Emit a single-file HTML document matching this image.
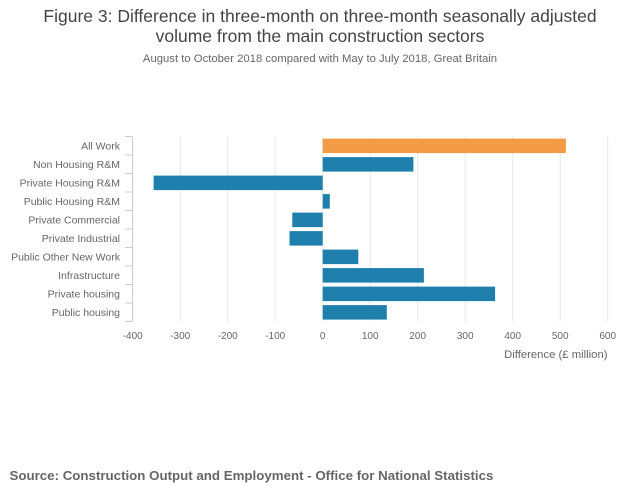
<!DOCTYPE html>
<html>
<head>
<meta charset="utf-8">
<style>
  html, body { margin: 0; padding: 0; background: #ffffff; }
  svg { display: block; font-family: "Liberation Sans", "DejaVu Sans", sans-serif; }
</style>
</head>
<body>
<svg width="640" height="501" viewBox="0 0 640 501" xmlns="http://www.w3.org/2000/svg">
  <rect x="0" y="0" width="640" height="501" fill="#ffffff"/>

  <!-- Title -->
  <text x="320" y="22" text-anchor="middle" font-size="17.5" fill="#444444">Figure 3: Difference in three-month on three-month seasonally adjusted</text>
  <text x="320" y="42" text-anchor="middle" font-size="17.5" fill="#444444">volume from the main construction sectors</text>
  <text x="320" y="62" text-anchor="middle" font-size="11.3" fill="#666666">August to October 2018 compared with May to July 2018, Great Britain</text>

  <!-- Gridlines -->
  <g stroke="#e6e6e6" stroke-width="1">
    <line x1="132.7" y1="136.5" x2="132.7" y2="321.5"/>
    <line x1="180.2" y1="136.5" x2="180.2" y2="321.5"/>
    <line x1="227.7" y1="136.5" x2="227.7" y2="321.5"/>
    <line x1="275.2" y1="136.5" x2="275.2" y2="321.5"/>
    <line x1="322.7" y1="136.5" x2="322.7" y2="321.5"/>
    <line x1="370.2" y1="136.5" x2="370.2" y2="321.5"/>
    <line x1="417.7" y1="136.5" x2="417.7" y2="321.5"/>
    <line x1="465.2" y1="136.5" x2="465.2" y2="321.5"/>
    <line x1="512.7" y1="136.5" x2="512.7" y2="321.5"/>
    <line x1="560.2" y1="136.5" x2="560.2" y2="321.5"/>
    <line x1="607.7" y1="136.5" x2="607.7" y2="321.5"/>
  </g>

  <!-- Left axis line and ticks -->
  <g stroke="#cccccc" stroke-width="1">
    <line x1="132.5" y1="136.5" x2="132.5" y2="321.5"/>
    <line x1="125" y1="136.5" x2="132.5" y2="136.5"/>
    <line x1="125" y1="155" x2="132.5" y2="155"/>
    <line x1="125" y1="173.5" x2="132.5" y2="173.5"/>
    <line x1="125" y1="192" x2="132.5" y2="192"/>
    <line x1="125" y1="210.5" x2="132.5" y2="210.5"/>
    <line x1="125" y1="229" x2="132.5" y2="229"/>
    <line x1="125" y1="247.5" x2="132.5" y2="247.5"/>
    <line x1="125" y1="266" x2="132.5" y2="266"/>
    <line x1="125" y1="284.5" x2="132.5" y2="284.5"/>
    <line x1="125" y1="303" x2="132.5" y2="303"/>
    <line x1="125" y1="321.5" x2="132.5" y2="321.5"/>
  </g>

  <!-- Bars -->
  <rect x="322.7" y="138.6" width="243.2" height="14.5" fill="#f39c45"/>
  <rect x="322.7" y="157.1" width="90.7" height="14.5" fill="#1e7fac"/>
  <rect x="153.6" y="175.6" width="169.1" height="14.5" fill="#1e7fac"/>
  <rect x="322.7" y="194.1" width="7.1" height="14.5" fill="#1e7fac"/>
  <rect x="292.3" y="212.6" width="30.4" height="14.5" fill="#1e7fac"/>
  <rect x="289.5" y="231.1" width="33.2" height="14.5" fill="#1e7fac"/>
  <rect x="322.7" y="249.6" width="35.6" height="14.5" fill="#1e7fac"/>
  <rect x="322.7" y="268.1" width="101.2" height="14.5" fill="#1e7fac"/>
  <rect x="322.7" y="286.6" width="172.4" height="14.5" fill="#1e7fac"/>
  <rect x="322.7" y="305.1" width="64.1" height="14.5" fill="#1e7fac"/>

  <!-- Category labels -->
  <g font-size="10.5" fill="#666666" text-anchor="end">
    <text x="120" y="149.5">All Work</text>
    <text x="120" y="168">Non Housing R&amp;M</text>
    <text x="120" y="186.5">Private Housing R&amp;M</text>
    <text x="120" y="205">Public Housing R&amp;M</text>
    <text x="120" y="223.5">Private Commercial</text>
    <text x="120" y="242">Private Industrial</text>
    <text x="120" y="260.5">Public Other New Work</text>
    <text x="120" y="279">Infrastructure</text>
    <text x="120" y="297.5">Private housing</text>
    <text x="120" y="316">Public housing</text>
  </g>

  <!-- X tick labels -->
  <g font-size="10" fill="#666666" text-anchor="middle">
    <text x="132.7" y="339">-400</text>
    <text x="180.2" y="339">-300</text>
    <text x="227.7" y="339">-200</text>
    <text x="275.2" y="339">-100</text>
    <text x="322.7" y="339">0</text>
    <text x="370.2" y="339">100</text>
    <text x="417.7" y="339">200</text>
    <text x="465.2" y="339">300</text>
    <text x="512.7" y="339">400</text>
    <text x="560.2" y="339">500</text>
    <text x="607.7" y="339">600</text>
  </g>

  <!-- X axis title -->
  <text x="607.5" y="358" text-anchor="end" font-size="11.3" fill="#666666">Difference (£ million)</text>

  <!-- Source -->
  <text x="9.5" y="480" font-size="13.3" font-weight="bold" fill="#666666">Source: Construction Output and Employment - Office for National Statistics</text>
</svg>
</body>
</html>
